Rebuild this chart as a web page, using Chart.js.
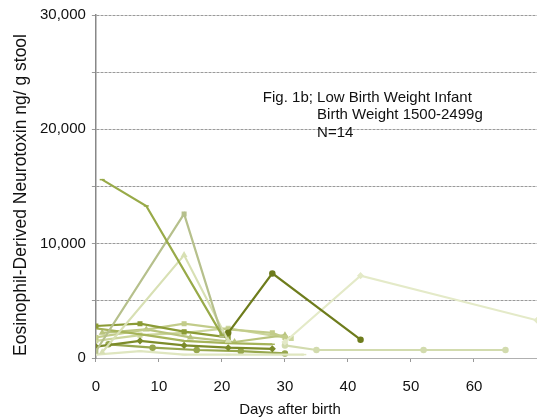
<!DOCTYPE html>
<html>
<head>
<meta charset="utf-8">
<script src="https://cdn.jsdelivr.net/npm/chart.js@4/dist/chart.umd.min.js"></script>
<style>
html,body{margin:0;padding:0;background:#fff;}
#wrap{width:537px;height:420px;}
</style>
</head>
<body>
<div id="wrap"><canvas id="c" width="537" height="420"></canvas></div>
<script>
// ---- data (days after birth, EDN ng/g stool) ----
const xTicks = [0, 10, 20, 30, 40, 50, 60];
const yTickLabels = [0, 10000, 20000, 30000];
const annotationLines = ["Fig. 1b; Low Birth Weight Infant", "Birth Weight 1500-2499g", "N=14"];
const xTitle = "Days after birth";
const yTitle = "Eosinophil-Derived Neurotoxin ng/ g stool";

const s1Days = [1, 8, 20];          const s1Vals = [15600, 13300, 2000];
const s2Days = [0, 14, 20];         const s2Vals = [600, 12600, 2000];
const s3Days = [1, 14, 21];         const s3Vals = [500, 9000, 1500];
const s4Days = [21, 28, 42];        const s4Vals = [2200, 7400, 1600];
const s5Days = [30, 42, 70];        const s5Vals = [1400, 7200, 3300];
const s6Days = [30, 35, 52, 65];    const s6Vals = [1100, 700, 700, 700];
const s7Days = [0, 7, 14, 21];      const s7Vals = [2800, 3000, 2300, 1800];
const s8Days = [0, 8, 14, 21, 28];  const s8Vals = [2600, 2000, 1500, 1300, 1200];
const s9Days = [0, 14, 21, 28, 30]; const s9Vals = [1800, 3000, 2500, 2200, 1800];
const s10Days = [0, 7, 14, 21, 28]; const s10Vals = [1000, 1500, 1100, 900, 800];
const s11Days = [1, 8, 15, 22, 30]; const s11Vals = [2200, 2500, 1800, 1400, 2000];
const s12Days = [0, 7, 14, 21, 33]; const s12Vals = [300, 600, 300, 300, 300];
const s13Days = [2, 9, 16, 23, 30]; const s13Vals = [1200, 900, 700, 600, 400];
const s14Days = [0, 7, 14, 21, 31]; const s14Vals = [1500, 2000, 2200, 2600, 1700];

const seriesDays = [s1Days,s2Days,s3Days,s4Days,s5Days,s6Days,s7Days,s8Days,s9Days,s10Days,s11Days,s12Days,s13Days,s14Days];
const seriesVals = [s1Vals,s2Vals,s3Vals,s4Vals,s5Vals,s6Vals,s7Vals,s8Vals,s9Vals,s10Vals,s11Vals,s12Vals,s13Vals,s14Vals];
const seriesNames = ["Infant 1","Infant 2","Infant 3","Infant 4","Infant 5","Infant 6","Infant 7","Infant 8","Infant 9","Infant 10","Infant 11","Infant 12","Infant 13","Infant 14"];

// ---- styles ----
const colors = ['#98aa48','#b6c08c','#d8e0b4','#6e7c1c','#e4eac8','#d2dbae','#8b9b36','#a6b45a','#c2cc8a','#7c8b2a','#b9c47e','#dfe6c0','#97a74e','#ccd69c'];
const shapes = ['line','rect','triangle','circle','rectRot','circle','rect','line','rect','rectRot','triangle','line','circle','rect'];

const datasets = seriesDays.map((d, i) => ({
  label: seriesNames[i],
  data: d.map((x, j) => ({x: x, y: seriesVals[i][j]})),
  borderColor: colors[i],
  backgroundColor: colors[i],
  borderWidth: 2.2,
  pointRadius: 2.5,
  pointStyle: shapes[i],
  pointBorderWidth: 1.5,
  tension: 0,
  fill: false
}));

const FAM = '"Liberation Sans", Arial, sans-serif';

const annotate = {
  id: 'annotate',
  afterDraw(chart) {
    const {ctx, scales: {x, y}} = chart;
    ctx.save();
    ctx.fillStyle = '#111';
    ctx.font = '15px ' + FAM;
    ctx.textBaseline = 'middle';
    ctx.textAlign = 'left';
    ctx.fillText(annotationLines[0], x.getPixelForValue(26.5), y.getPixelForValue(22750));
    ctx.fillText(annotationLines[1], x.getPixelForValue(35.1), y.getPixelForValue(21250));
    ctx.fillText(annotationLines[2], x.getPixelForValue(35.1), y.getPixelForValue(19700));
    // axis titles
    ctx.textAlign = 'center';
    ctx.font = '15px ' + FAM;
    ctx.fillText(xTitle, 290, 410);
    ctx.translate(21, 195);
    ctx.rotate(-Math.PI / 2);
    ctx.font = '17.5px ' + FAM;
    ctx.fillText(yTitle, 0, 0);
    ctx.restore();
  }
};

const font = {family: FAM, size: 15};

new Chart(document.getElementById('c'), {
  type: 'line',
  data: {datasets},
  plugins: [annotate],
  options: {
    responsive: false,
    animation: false,
    layout: {autoPadding: false, padding: {left: 34, top: 15, right: 0, bottom: 8}},
    plugins: {legend: {display: false}, tooltip: {enabled: false}},
    scales: {
      x: {
        type: 'linear',
        min: 0, max: 70,
        afterFit: s => { s.paddingRight = 0; },
        ticks: {
          stepSize: 10, color: '#111', font, padding: 16,
          callback: v => xTicks.includes(v) ? String(v) : ''
        },
        grid: {display: true, drawOnChartArea: false, drawTicks: true, tickLength: 4, color: '#999'},
        border: {display: true, color: '#b0b0b0', width: 1}
      },
      y: {
        type: 'linear',
        min: 0, max: 30000,
        ticks: {
          stepSize: 5000, color: '#111', font, padding: 6,
          callback: v => yTickLabels.includes(v) ? v.toLocaleString('en-US') : ''
        },
        grid: {color: '#9a9a9a', lineWidth: 1, drawTicks: true, tickLength: 4},
        border: {display: true, color: '#888', width: 1.5, dash: [3, 1]}
      }
    }
  }
});
</script>
</body>
</html>
